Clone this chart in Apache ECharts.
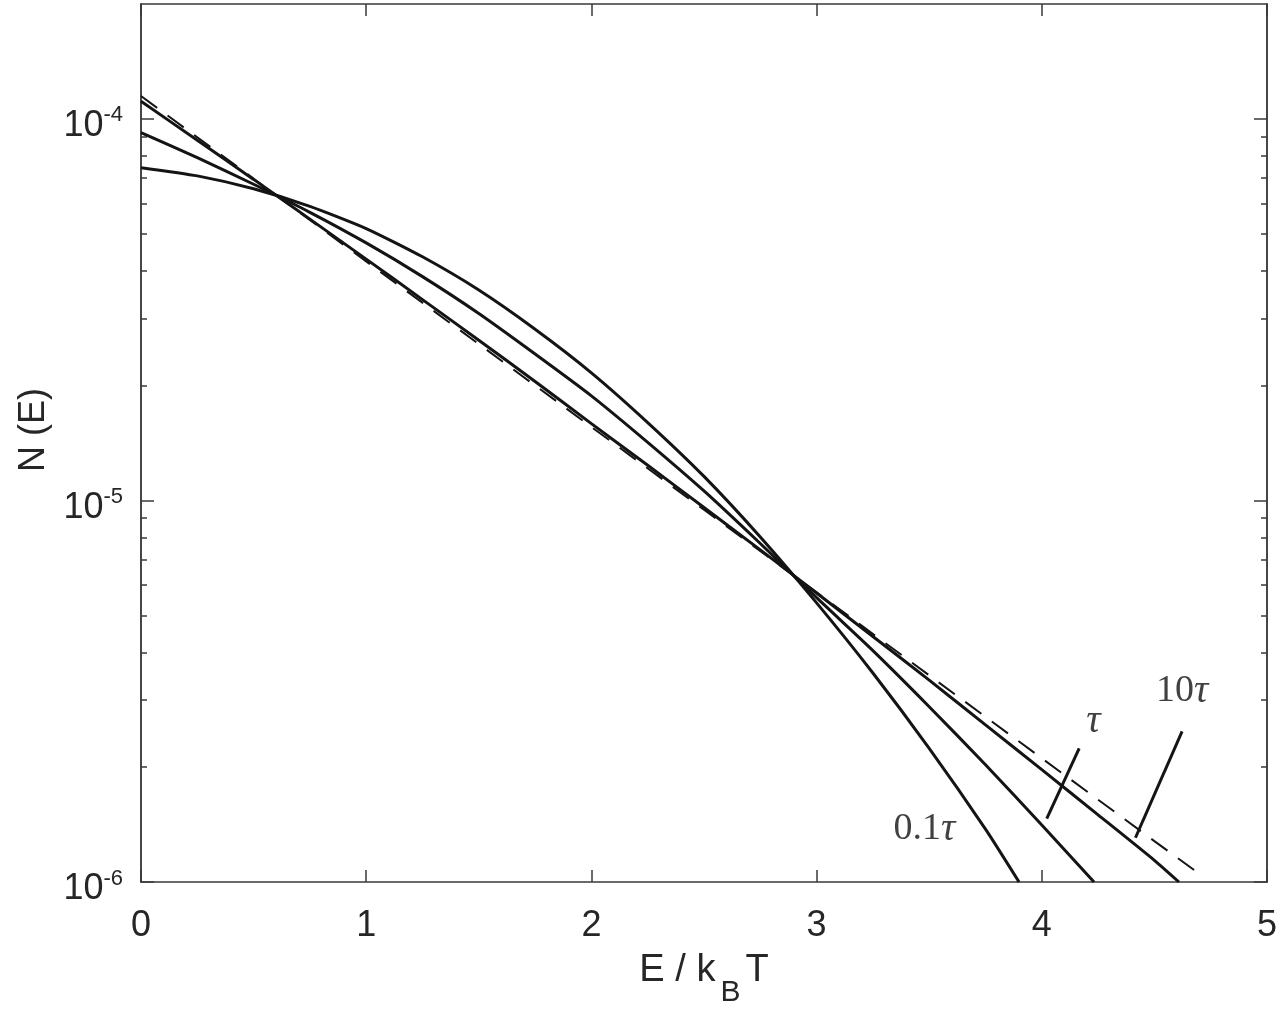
<!DOCTYPE html>
<html><head><meta charset="utf-8">
<script src="https://cdn.jsdelivr.net/npm/echarts@6/dist/echarts.min.js"></script>
<style>html,body{margin:0;padding:0;background:#fff}#c{width:1280px;height:1014px}</style>
</head><body><div id="c"></div>
<script>
// Energy values (E / kBT) and N(E)
const E_A = [0,0.25,0.5,0.75,1,1.25,1.5,1.75,2,2.25,2.5,2.75,3,3.25,3.5,3.75,3.899];
const N_A = [7.45e-5,7.09e-5,6.56e-5,5.90e-5,5.16e-5,4.35e-5,3.56e-5,2.81e-5,2.16e-5,1.60e-5,1.156e-5,8.02e-6,5.39e-6,3.53e-6,2.24e-6,1.376e-6,1.0e-6];
const E_B = [0,0.25,0.5,0.75,1,1.25,1.5,1.75,2,2.25,2.5,2.75,3,3.25,3.5,3.75,4.0,4.232];
const N_B = [9.20e-5,7.91e-5,6.74e-5,5.69e-5,4.73e-5,3.86e-5,3.09e-5,2.42e-5,1.88e-5,1.42e-5,1.059e-5,7.71e-6,5.56e-6,4.04e-6,2.88e-6,2.03e-6,1.41e-6,1.0e-6];
const E_C = [0,0.25,0.5,0.75,1,1.25,1.5,1.75,2,2.25,2.5,2.75,3,3.25,3.5,3.75,4.0,4.25,4.5,4.609];
const N_C = [1.112e-4,8.79e-5,6.94e-5,5.46e-5,4.29e-5,3.36e-5,2.63e-5,2.05e-5,1.59e-5,1.236e-5,9.58e-6,7.42e-6,5.72e-6,4.40e-6,3.38e-6,2.58e-6,1.97e-6,1.50e-6,1.14e-6,1.0e-6];
const E_D = [0,0.5,1,1.5,2,2.5,3,3.5,4,4.5,4.697];
const N_D = [1.148e-4,6.97e-5,4.23e-5,2.57e-5,1.558e-5,9.45e-6,5.74e-6,3.48e-6,2.11e-6,1.28e-6,1.053e-6];

// annotation pointers and labels (data coordinates)
const ptrTau = [[4.022,1.466e-6],[4.166,2.239e-6]];
const ptr10Tau = [[4.416,1.306e-6],[4.623,2.483e-6]];
const labelText = ['0.1', '', '10'];
const labelPos = [[3.479,1.374e-6],[4.229,2.636e-6],[4.623,3.157e-6]];

const xTicks = [0,1,2,3,4,5];
const yMajor = [1e-6,1e-5,1e-4];
const yMinor = [2e-6,3e-6,4e-6,5e-6,6e-6,7e-6,8e-6,9e-6,2e-5,3e-5,4e-5,5e-5,6e-5,7e-5,8e-5,9e-5];

const pair = (xs, ys) => xs.map((x, i) => [x, ys[i]]);
const AX = '#3a3a3a';
const TXT = '#262626';
const SANS = '"Liberation Sans", Arial, sans-serif';
const SERIF = '"Liberation Serif", "DejaVu Serif", serif';

function yAxisDef(pos, len, ticks, withLabels) {
  return {
    type: 'log', logBase: 10, min: 1e-6, max: 2e-4, position: pos,
    axisLine: { show: true, lineStyle: { color: AX, width: 1.5 } },
    axisTick: { show: true, inside: true, length: len, customValues: ticks, lineStyle: { color: AX, width: 1.5 } },
    axisLabel: withLabels ? {
      show: true, customValues: yMajor, margin: 18, padding: [11, 0, 0, 0],
      formatter: v => '{b|10}{s|' + Math.round(Math.log10(v)) + '}',
      rich: {
        b: { fontSize: 36, lineHeight: 36, verticalAlign: 'bottom', fontFamily: SANS, color: TXT },
        s: { fontSize: 22, lineHeight: 40, verticalAlign: 'top', fontFamily: SANS, color: TXT }
      }
    } : { show: false },
    splitLine: { show: false },
    name: withLabels ? 'N (E)' : '', nameLocation: 'middle', nameGap: 88,
    nameTextStyle: { fontSize: 36, fontFamily: SANS, color: TXT, padding: [0, 0, 0, 26] }
  };
}

const option = {
  animation: false,
  backgroundColor: '#fff',
  grid: { left: 141, right: 10, top: 4, bottom: 132, containLabel: false },
  xAxis: [
    {
      type: 'value', min: 0, max: 5, interval: 1, position: 'bottom',
      axisLine: { show: true, onZero: false, lineStyle: { color: AX, width: 1.5 } },
      axisTick: { show: true, inside: true, length: 12, customValues: xTicks, lineStyle: { color: AX, width: 1.5 } },
      axisLabel: { show: true, customValues: xTicks, margin: 26, fontSize: 36, fontFamily: SANS, color: TXT },
      splitLine: { show: false },
      name: '{t|E / k}{sub|B}{t|T}', nameLocation: 'middle', nameGap: 70,
      nameTextStyle: {
        rich: {
          t: { fontSize: 38, lineHeight: 56, verticalAlign: 'top', fontFamily: SANS, color: TXT },
          sub: { fontSize: 30, lineHeight: 56, verticalAlign: 'bottom', fontFamily: SANS, color: TXT, padding: [0, 5, 0, 5] }
        }
      }
    },
    {
      type: 'value', min: 0, max: 5, interval: 1, position: 'top',
      axisLine: { show: true, onZero: false, lineStyle: { color: AX, width: 1.5 } },
      axisTick: { show: true, inside: true, length: 12, customValues: xTicks, lineStyle: { color: AX, width: 1.5 } },
      axisLabel: { show: false }, splitLine: { show: false }
    }
  ],
  yAxis: [
    yAxisDef('left', 13, yMajor, true),
    yAxisDef('left', 6, yMinor, false),
    yAxisDef('right', 13, yMajor, false),
    yAxisDef('right', 6, yMinor, false)
  ],
  series: [
    { type: 'line', name: 'A', data: pair(E_A, N_A), showSymbol: false, smooth: 0.2, clip: true,
      lineStyle: { color: '#141414', width: 3 } },
    { type: 'line', name: 'B', data: pair(E_B, N_B), showSymbol: false, smooth: 0.2, clip: true,
      lineStyle: { color: '#141414', width: 3 } },
    { type: 'line', name: 'C', data: pair(E_C, N_C), showSymbol: false, smooth: 0.2, clip: true,
      lineStyle: { color: '#141414', width: 3 } },
    { type: 'line', name: 'dashed', data: pair(E_D, N_D), showSymbol: false, smooth: false, clip: true,
      lineStyle: { color: '#141414', width: 2, type: [20, 13] } },
    { type: 'line', name: 'ptrTau', data: ptrTau, showSymbol: false, lineStyle: { color: '#141414', width: 3 } },
    { type: 'line', name: 'ptr10Tau', data: ptr10Tau, showSymbol: false, lineStyle: { color: '#141414', width: 3 } },
    { type: 'scatter', name: 'labels', symbolSize: 0,
      data: labelPos.map((p, i) => ({ value: p, label: { formatter: '{n|' + labelText[i] + '}{t|τ}' } })),
      label: { show: true, position: 'inside',
        rich: {
          n: { fontSize: 38, fontFamily: SERIF, color: '#111' },
          t: { fontSize: 40, fontFamily: SERIF, fontStyle: 'italic', color: '#111' }
        } }
    }
  ]
};
const chart = echarts.init(document.getElementById('c'));
chart.setOption(option);
</script></body></html>
